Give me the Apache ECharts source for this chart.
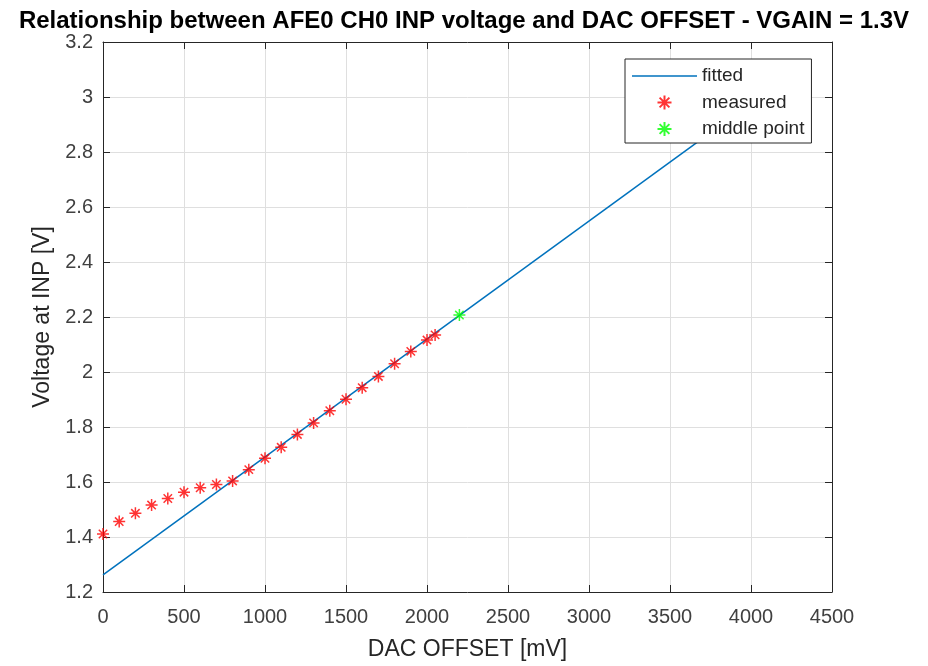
<!DOCTYPE html>
<html><head><meta charset="utf-8">
<script src="https://cdn.jsdelivr.net/npm/echarts@6/dist/echarts.min.js"></script>
<style>html,body{margin:0;padding:0;background:#fff}#c{width:928px;height:666px}</style>
</head><body><div id="c"></div>
<script>
const titleText = 'Relationship between AFE0 CH0 INP voltage and DAC OFFSET - VGAIN = 1.3V';
const xName = 'DAC OFFSET [mV]';
const yName = 'Voltage at INP [V]';
const xTicks = [0,500,1000,1500,2000,2500,3000,3500,4000,4500];
const yTicks = [1.2,1.4,1.6,1.8,2,2.2,2.4,2.6,2.8,3,3.2];
const fittedX = [0, 4000];
const fittedY = [1.262, 2.978];
const measuredX = [0,100,200,300,400,500,600,700,800,900,1000,1100,1200,1300,1400,1500,1600,1700,1800,1900,2000,2050];
const measuredY = [1.411,1.456,1.486,1.516,1.540,1.563,1.579,1.591,1.604,1.645,1.686,1.726,1.773,1.815,1.859,1.901,1.943,1.984,2.030,2.075,2.116,2.135];
const middleX = [2200];
const middleY = [2.207];

const ASTER = 'path://M5 0 L5 10 M0 5 L10 5 M1.5 1.5 L8.5 8.5 M1.5 8.5 L8.5 1.5';
const LINEICON = 'path://M0 0 L65 0 L65 1.5 L0 1.5 Z';
const FONT = '"Liberation Sans", Arial, sans-serif';
const AX = '#262626';
const zip = (a,b)=>a.map((v,i)=>[v,b[i]]);

const chart = echarts.init(document.getElementById('c'), null, {renderer:'canvas'});
const baseX = {
  type:'value', min:0, max:4500, interval:500,
  axisLine:{show:true, onZero:false, lineStyle:{color:AX, width:1}},
  axisTick:{show:true, inside:true, length:7, lineStyle:{color:AX}},
  splitLine:{show:true, lineStyle:{color:'#dfdfdf', width:1}},
};
const baseY = {
  type:'value', min:1.2, max:3.2, interval:0.2,
  axisLine:{show:true, onZero:false, lineStyle:{color:AX, width:1}},
  axisTick:{show:true, inside:true, length:7, lineStyle:{color:AX}},
  splitLine:{show:true, lineStyle:{color:'#dfdfdf', width:1}},
};
chart.setOption({
  animation:false,
  backgroundColor:'#fff',
  title:{text:titleText, left:'center', top:4,
    textStyle:{fontFamily:FONT, fontWeight:'bold', fontSize:24, color:'#000'}},
  grid:{left:103, right:96, top:42, bottom:68, containLabel:false},
  legend:{
    orient:'vertical', left:625, top:59,
    backgroundColor:'#fff', borderColor:AX, borderWidth:1,
    padding:[7,7,4,7], itemWidth:65, itemHeight:14, itemGap:6.5, itemTextGap:4,
    textStyle:{fontFamily:FONT, fontSize:19, lineHeight:20, color:'#262626'},
    data:[{name:'fitted', icon:LINEICON},{name:'measured'},{name:'middle point'}]
  },
  xAxis:[
    Object.assign({}, baseX, {position:'bottom', name:xName, nameLocation:'middle', nameGap:46,
      nameTextStyle:{fontFamily:FONT, fontSize:23, color:AX},
      axisLabel:{fontFamily:FONT, fontSize:20, color:'#404040', margin:15,
        formatter:v=>xTicks.includes(v)?String(v):''}}),
    Object.assign({}, baseX, {position:'top', splitLine:{show:false}, axisLabel:{show:false}})
  ],
  yAxis:[
    Object.assign({}, baseY, {position:'left', name:yName, nameLocation:'middle', nameGap:48,
      nameTextStyle:{fontFamily:FONT, fontSize:23, color:AX},
      axisLabel:{fontFamily:FONT, fontSize:20, color:'#404040', margin:10, padding:[3,0,0,0],
        formatter:v=>{const r=Math.round(v*10)/10; return yTicks.some(t=>Math.abs(t-r)<1e-9)?String(r):'';}}}),
    Object.assign({}, baseY, {position:'right', splitLine:{show:false}, axisLabel:{show:false}})
  ],
  series:[
    {name:'fitted', type:'line', xAxisIndex:0, yAxisIndex:0, data:zip(fittedX,fittedY),
      symbol:'none', lineStyle:{color:'#0072BD', width:1.5}, itemStyle:{color:'#0072BD'}, z:2},
    {name:'measured', type:'scatter', data:zip(measuredX,measuredY), symbol:ASTER, symbolSize:12,
      itemStyle:{color:'rgba(0,0,0,0)', borderColor:'#ff0000', borderWidth:1.5}, z:3},
    {name:'middle point', type:'scatter', data:zip(middleX,middleY), symbol:ASTER, symbolSize:12,
      itemStyle:{color:'rgba(0,0,0,0)', borderColor:'#00ff00', borderWidth:1.5}, z:3}
  ]
});
</script></body></html>
